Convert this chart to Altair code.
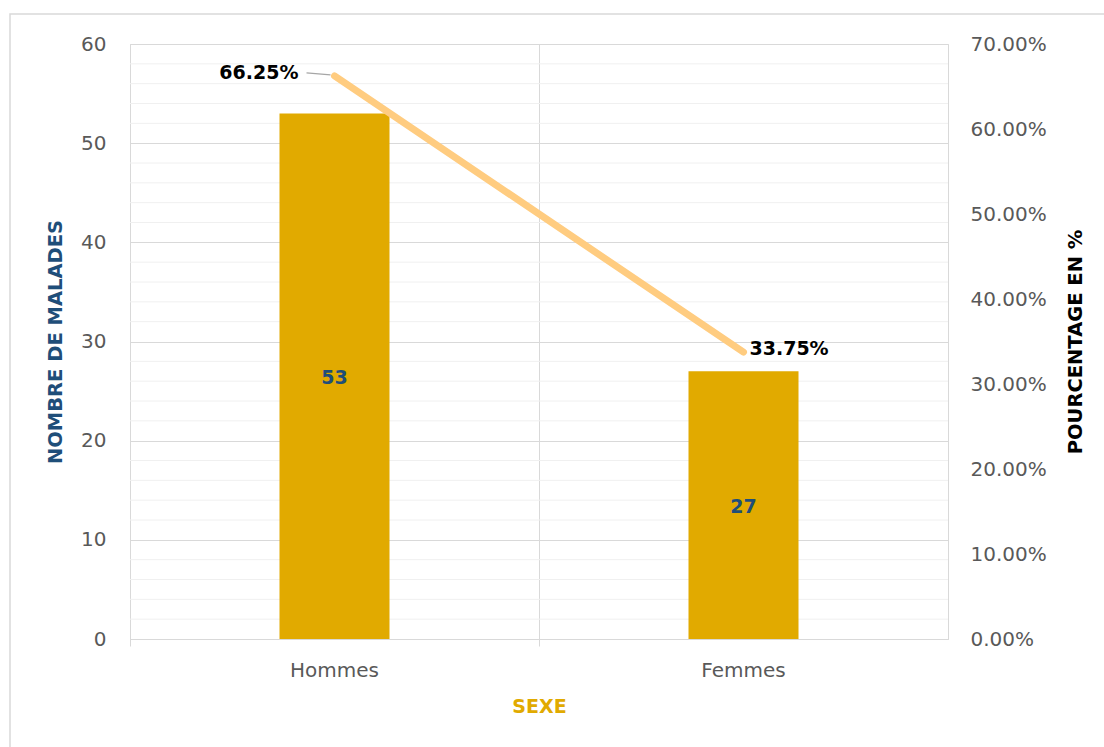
import altair as alt
import pandas as pd

categories = ["Hommes", "Femmes"]
counts = [53, 27]
percents = [0.6625, 0.3375]
left_ticks = [0, 10, 20, 30, 40, 50, 60]
minor_ticks = [2, 4, 6, 8, 12, 14, 16, 18, 22, 24, 26, 28, 32, 34, 36, 38,
               42, 44, 46, 48, 52, 54, 56, 58]
right_ticks = [0.0, 0.1, 0.2, 0.3, 0.4, 0.5, 0.6, 0.7]

df = pd.DataFrame({"sexe": categories, "n": counts, "pct": percents})
df["mid"] = df["n"] / 2
minor_df = pd.DataFrame({"n": minor_ticks})

FONT = "DejaVu Sans"
GOLD = "#E1AA00"
BLUE = "#1F4E79"
GRID = "#d9d9d9"

x_enc = alt.X(
    "sexe:N",
    sort=categories,
    scale=alt.Scale(paddingInner=0, paddingOuter=0),
    axis=alt.Axis(
        title="SEXE", labelAngle=0, bandPosition=0, grid=True, gridColor=GRID,
        domainColor=GRID, ticks=True, tickColor=GRID, tickSize=7,
        labelFont=FONT, labelFontSize=20, labelColor="#595959", labelPadding=14,
        titleFont=FONT, titleFontSize=19, titleFontWeight="bold", titleColor=GOLD,
        titlePadding=17,
    ),
)

left_axis = alt.Axis(
    title="NOMBRE DE MALADES", values=left_ticks, grid=True, gridColor=GRID,
    domain=False, ticks=False, labelFont=FONT, labelFontSize=20,
    labelColor="#595959", labelPadding=24, titleFont=FONT, titleFontSize=19.5,
    titleFontWeight="bold", titleColor=BLUE, titlePadding=15,
)
left_scale = alt.Scale(domain=[0, 60], nice=False)

right_axis = alt.Axis(
    title="POURCENTAGE EN %", orient="right", values=right_ticks, format=".2%",
    grid=False, domain=False, ticks=False, labelFont=FONT, labelFontSize=20,
    labelColor="#595959", labelPadding=22, titleFont=FONT, titleFontSize=19.5,
    titleFontWeight="bold", titleColor="#000000", titleAngle=270, titlePadding=39,
)
right_scale = alt.Scale(domain=[0, 0.7], nice=False)

border = alt.Chart(alt.Data(values=[{}])).mark_rect(
    fill=None, stroke=GRID, strokeWidth=1.5
).encode(
    x=alt.value(-120), x2=alt.value(980), y=alt.value(-30), y2=alt.value(710)
)

minor = alt.Chart(minor_df).mark_rule(color="#f0f0f0", strokeWidth=1).encode(
    y=alt.Y("n:Q", scale=left_scale, axis=left_axis)
)

bars = alt.Chart(df).mark_bar(color=GOLD, size=110).encode(
    x=x_enc,
    y=alt.Y("n:Q", scale=left_scale, axis=left_axis),
)

bar_labels = alt.Chart(df).mark_text(
    font=FONT, fontSize=19, fontWeight="bold", color=BLUE, baseline="middle", dy=2
).encode(
    x=x_enc,
    y=alt.Y("mid:Q", scale=left_scale, axis=left_axis),
    text=alt.Text("n:Q"),
)

left = alt.layer(minor, bars, bar_labels)

y_right = alt.Y("pct:Q", scale=right_scale, axis=right_axis)

line = alt.Chart(df).mark_line(
    color="#FFCC80", strokeWidth=7, strokeCap="round"
).encode(x=x_enc, y=y_right)

leader = alt.Chart(df).transform_filter(alt.datum.sexe == "Hommes").mark_rule(
    color="#a6a6a6", strokeWidth=1.2, xOffset=-28, x2Offset=-4, yOffset=-3, y2Offset=-1
).encode(
    x=x_enc,
    x2=alt.X2("sexe"),
    y=y_right,
    y2=alt.Y2("pct"),
)

lab_h = alt.Chart(df).transform_filter(alt.datum.sexe == "Hommes").mark_text(
    font=FONT, fontSize=19, fontWeight="bold", color="#000000",
    align="right", baseline="middle", dx=-36, dy=-3
).encode(x=x_enc, y=y_right, text=alt.Text("pct:Q", format=".2%"))

lab_f = alt.Chart(df).transform_filter(alt.datum.sexe == "Femmes").mark_text(
    font=FONT, fontSize=19, fontWeight="bold", color="#000000",
    align="left", baseline="middle", dx=6, dy=-3
).encode(x=x_enc, y=y_right, text=alt.Text("pct:Q", format=".2%"))

right = alt.layer(line, leader, lab_h, lab_f)

chart = alt.layer(border, left, right).resolve_scale(y="independent").properties(
    width=818, height=595,
    autosize=alt.AutoSizeParams(type="none"),
    padding={"left": 130, "top": 44, "right": 156, "bottom": 108},
    background="#ffffff",
).configure_view(stroke=GRID)

chart.save("out.html", embed_options={"renderer": "svg", "actions": False})
